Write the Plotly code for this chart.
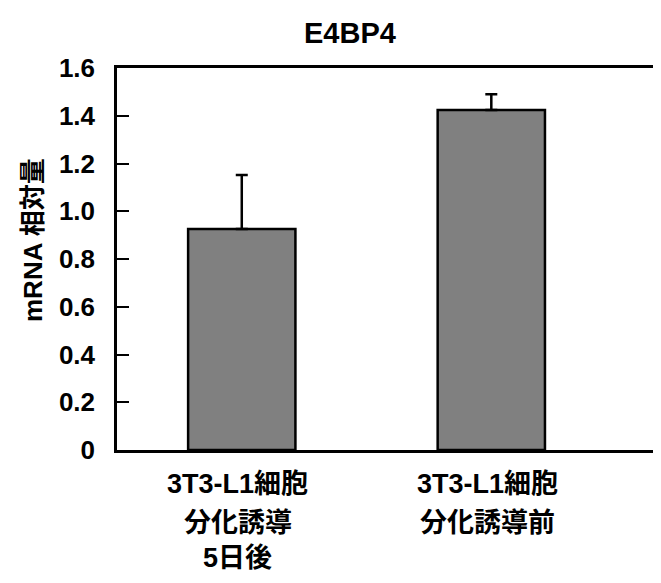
import plotly.graph_objects as go

categories = ["3T3-L1細胞\n分化誘導\n5日後", "3T3-L1細胞\n分化誘導前"]
values = [0.926, 1.424]
errors_plus = [0.226, 0.066]
ytick_vals = [0, 0.2, 0.4, 0.6, 0.8, 1.0, 1.2, 1.4, 1.6]
ytick_text = ["0", "0.2", "0.4", "0.6", "0.8", "1.0", "1.2", "1.4", "1.6"]
title_text = "E4BP4"
ytitle_text = "mRNA 相対量"

FONT = "Liberation Sans, Arial, Noto Sans CJK JP, sans-serif"
xpos = list(range(len(categories)))

fig = go.Figure()
fig.add_trace(go.Bar(
    x=xpos, y=values, width=0.43,
    marker=dict(color="#808080", line=dict(color="black", width=2.5)),
    error_y=dict(type="data", array=errors_plus, arrayminus=[0] * len(values),
                 symmetric=False, color="black", thickness=2.5, width=6),
))

annotations = []
line_offsets = [-34, -73, -108]
for xi, label in zip(xpos, categories):
    for k, line in enumerate(label.split("\n")):
        annotations.append(dict(
            x=xi, y=0, xref="x", yref="paper", text="<b>%s</b>" % line,
            showarrow=False, yshift=line_offsets[k], xshift=-4,
            xanchor="center", yanchor="middle",
            font=dict(family=FONT, size=27, color="black")))
annotations.append(dict(
    x=0, y=(450 - 240) / 382, xref="paper", yref="paper", xshift=-84,
    text="<b>%s</b>" % ytitle_text, textangle=-90, showarrow=False,
    xanchor="center", yanchor="middle",
    font=dict(family=FONT, size=26, color="black")))
annotations.append(dict(
    x=(350 - 117) / 544, y=1, xref="paper", yref="paper", yshift=35,
    text="<b>%s</b>" % title_text, showarrow=False, xanchor="center", yanchor="middle",
    font=dict(family=FONT, size=29, color="black")))

fig.update_layout(
    width=653, height=575,
    margin=dict(l=109, r=0, t=60, b=133),
    plot_bgcolor="white", paper_bgcolor="white",
    showlegend=False,
    annotations=annotations,
    xaxis=dict(range=[-0.5, 1.68], showline=True, linecolor="black", linewidth=2.5,
               mirror=True, showticklabels=False, ticks="", showgrid=False, zeroline=False),
    yaxis=dict(range=[0, 1.6], tickvals=ytick_vals, ticktext=ytick_text,
               showline=True, linecolor="black", linewidth=2.5, ticks="inside",
               ticklen=12, tickwidth=2, tickcolor="black", showgrid=False, zeroline=False,
               ticklabelstandoff=14,
               tickfont=dict(family=FONT, size=26, color="black", weight="bold")),
)

fig.write_html("out.html")
